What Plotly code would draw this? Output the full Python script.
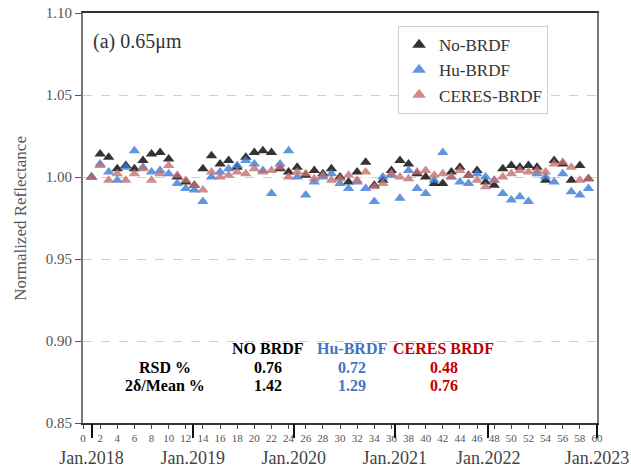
import plotly.graph_objects as go

# Month index (0 = Dec.2017) of each monthly sample
months = list(range(1, 60))

# Normalized 0.65 µm reflectance for the three BRDF treatments
no_brdf = [1.000, 1.014, 1.012, 1.005, 1.007, 1.005, 1.010, 1.014, 1.015, 1.011,
           1.000, 0.997, 0.995, 1.005, 1.013, 1.008, 1.010, 1.006, 1.012, 1.015,
           1.016, 1.015, 1.005, 1.003, 1.006, 1.001, 1.004, 1.002, 1.005, 1.000,
           0.997, 1.003, 1.009, 0.995, 0.998, 1.004, 1.010, 1.008, 1.002, 1.000,
           0.996, 0.996, 1.003, 1.006, 1.001, 1.004, 0.997, 0.995, 1.005, 1.007,
           1.006, 1.007, 1.006, 0.998, 1.010, 1.008, 0.998, 1.007, 0.999]
hu_brdf = [1.000, 1.008, 1.003, 0.998, 1.006, 1.016, 1.006, 1.003, 1.004, 1.002,
           0.996, 0.993, 0.992, 0.985, 1.000, 1.003, 1.005, 1.007, 1.010, 1.008,
           1.004, 0.990, 1.008, 1.016, 1.000, 0.989, 0.997, 1.000, 1.002, 0.996,
           0.993, 0.997, 0.993, 0.985, 1.000, 1.001, 0.987, 1.004, 0.993, 0.990,
           0.998, 1.015, 1.000, 0.997, 0.996, 1.002, 1.000, 0.998, 0.990, 0.986,
           0.988, 0.985, 1.002, 1.000, 0.997, 1.002, 0.991, 0.989, 0.993]
ceres_brdf = [1.000, 1.007, 0.998, 1.002, 0.998, 1.002, 1.005, 0.998, 1.002, 1.007,
              1.001, 0.998, 0.995, 0.992, 1.003, 1.000, 1.001, 1.003, 1.002, 1.005,
              1.003, 1.004, 1.006, 1.000, 1.003, 1.002, 0.999, 1.001, 0.998, 0.999,
              1.001, 0.998, 1.003, 0.994, 0.996, 1.002, 1.000, 0.999, 1.003, 1.004,
              1.001, 1.002, 1.000, 1.004, 1.001, 0.998, 0.994, 0.998, 1.000, 1.002,
              1.004, 1.003, 1.004, 1.003, 1.008, 1.009, 1.006, 0.998, 0.999]

series_names = ["No-BRDF", "Hu-BRDF", "CERES-BRDF"]
series_colors = ["#000000", "#3a7bd8", "#c46e6e"]

# Year boundaries on the month axis
year_pos = [1, 12.8, 24.6, 36.4, 47.3, 60]
year_labels = ["Jan.2018", "Jan.2019", "Jan.2020", "Jan.2021", "Jan.2022", "Jan.2023"]

# Month tick labels
month_ticks = list(range(0, 61, 2))

# Statistics table
stat_rows = ["RSD %", "2δ/Mean %"]
stat_cols = ["NO BRDF", "Hu-BRDF", "CERES BRDF"]
stat_colors = ["#000000", "#4472c4", "#c00000"]
rsd = [0.76, 0.72, 0.48]
two_delta = [1.42, 1.29, 0.76]

SERIF = "Liberation Serif, Times New Roman, serif"
TABLE_SIZE = 16

fig = go.Figure()
for name, vals, col in zip(series_names, [no_brdf, hu_brdf, ceres_brdf], series_colors):
    fig.add_trace(go.Scatter(
        x=months, y=vals, mode="markers", name=name,
        marker=dict(symbol="triangle-up", size=10, color=col, opacity=0.8,
                    line=dict(width=0)),
    ))

# Invisible trace carrying the year axis
fig.add_trace(go.Scatter(x=[0, 60], y=[None, None], xaxis="x2", showlegend=False,
                         hoverinfo="skip", mode="markers"))

# Statistics table as annotations
head_y, row_y = 0.8957, [0.8838, 0.8726]
col_x = [21.6, 31.4, 42.1]
for cx, head, c, r, d in zip(col_x, stat_cols, stat_colors, rsd, two_delta):
    fig.add_annotation(x=cx, y=head_y, xref="x", yref="y", text=f"<b>{head}</b>",
                       showarrow=False, font=dict(family=SERIF, size=TABLE_SIZE, color=c))
    fig.add_annotation(x=cx, y=row_y[0], xref="x", yref="y", text=f"<b>{r:.2f}</b>",
                       showarrow=False, font=dict(family=SERIF, size=TABLE_SIZE, color=c))
    fig.add_annotation(x=cx, y=row_y[1], xref="x", yref="y", text=f"<b>{d:.2f}</b>",
                       showarrow=False, font=dict(family=SERIF, size=TABLE_SIZE, color=c))
for ry, label in zip(row_y, stat_rows):
    fig.add_annotation(x=9.6, y=ry, xref="x", yref="y", text=f"<b>{label}</b>",
                       showarrow=False, font=dict(family=SERIF, size=TABLE_SIZE, color="#000000"))

fig.add_annotation(x=0.016, y=0.93, xref="paper", yref="paper", text="(a) 0.65μm",
                   showarrow=False, xanchor="left", yanchor="middle",
                   font=dict(family=SERIF, size=20, color="#333333"))

# Y-axis title placed beside the tick labels
fig.add_annotation(x=-0.123, y=0.5, xref="paper", yref="paper",
                   text="Normalized Reflectance", textangle=-90, showarrow=False,
                   xanchor="center", yanchor="middle",
                   font=dict(family=SERIF, size=17, color="#555555"))

fig.update_layout(
    width=631, height=469,
    margin=dict(l=83, r=34, t=13, b=46),
    plot_bgcolor="white", paper_bgcolor="white",
    font=dict(family=SERIF, color="#444444"),
    legend=dict(x=0.613, y=0.968, xanchor="left", yanchor="top",
                bgcolor="white", bordercolor="#d0d0d0", borderwidth=1,
                font=dict(family=SERIF, size=17, color="#333333"),
                itemsizing="constant", tracegroupgap=0),
    xaxis=dict(range=[0, 60], tickmode="array", tickvals=month_ticks,
               ticktext=[str(t) for t in month_ticks],
               ticks="outside", ticklen=4, tickcolor="#444444", tickwidth=1,
               tickfont=dict(family=SERIF, size=11, color="#555555"),
               showline=True, linecolor="#333333", linewidth=2, mirror=True,
               showgrid=False, zeroline=False, automargin=False),
    xaxis2=dict(range=[0, 60], overlaying="x", side="bottom", anchor="y",
                tickmode="array", tickvals=year_pos, ticktext=year_labels,
                ticks="outside", ticklen=14, tickwidth=2, tickcolor="#111111",
                ticklabelstandoff=4,
                tickfont=dict(family=SERIF, size=18, color="#444444"),
                showgrid=False, zeroline=False, showline=False, automargin=False),
    yaxis=dict(range=[0.85, 1.10], tickmode="array",
               tickvals=[0.85, 0.90, 0.95, 1.00, 1.05, 1.10],
               ticktext=["0.85", "0.90", "0.95", "1.00", "1.05", "1.10"],
               ticks="outside", ticklen=6, tickcolor="#555555",
               tickfont=dict(family=SERIF, size=15, color="#555555"),
               showline=True, linecolor="#777777", linewidth=2, mirror=True,
               showgrid=True, gridcolor="#cfcfcf", griddash="dash", gridwidth=1,
               zeroline=False, automargin=False),
)

fig.write_html("out.html")
